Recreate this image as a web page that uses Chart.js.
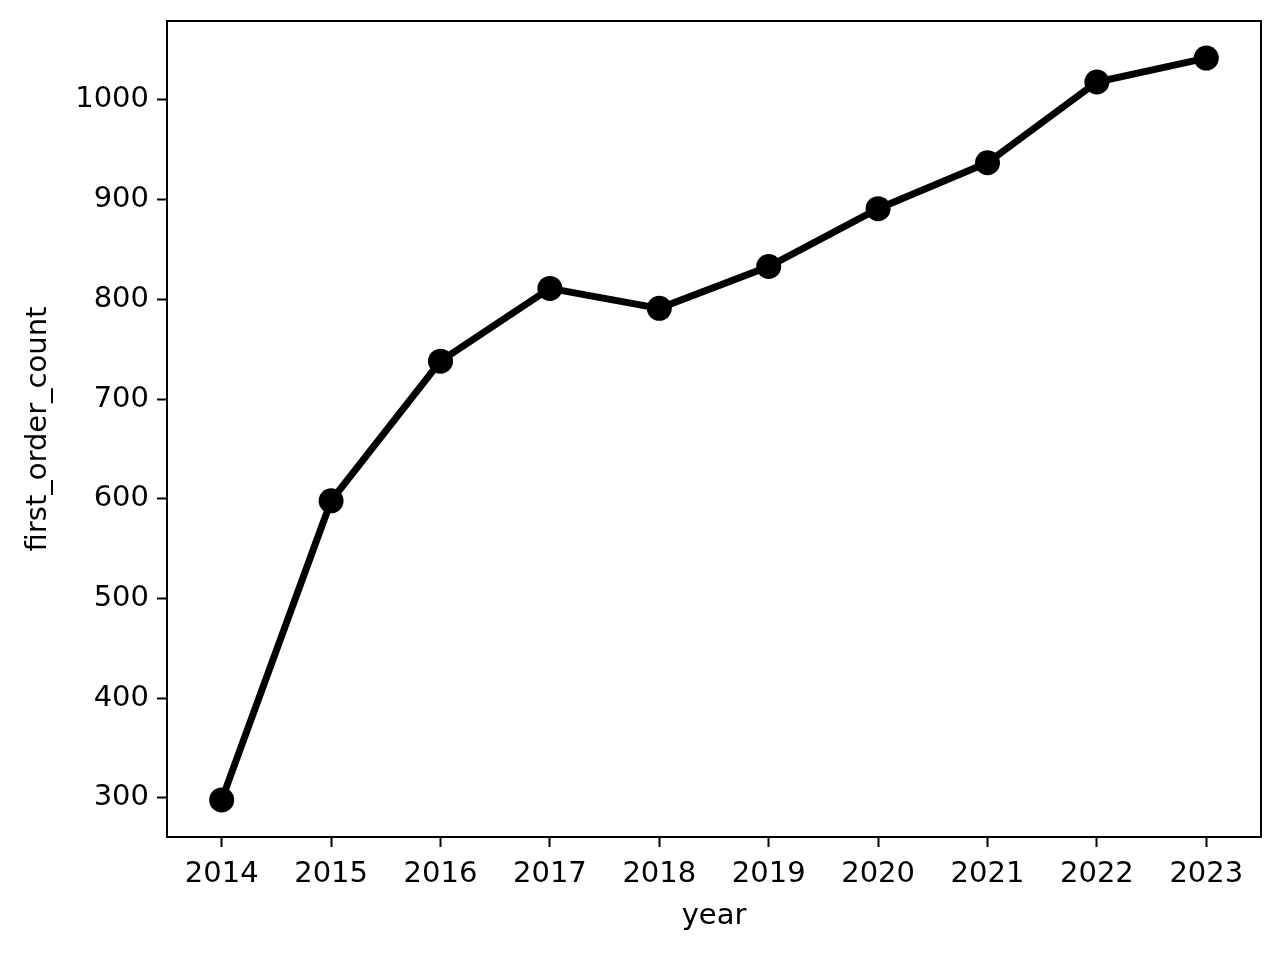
<html>
<head>
<script src="https://cdn.jsdelivr.net/npm/chart.js@4.4.0/dist/chart.umd.min.js"></script>
<style>
  html, body { margin: 0; padding: 0; background: white; }
  #wrap { width: 1280px; height: 953px; }
</style>
</head>
<body>
<div id="wrap"><canvas id="firstOrders"></canvas></div>
<script>
  // data
  var years = ["2014", "2015", "2016", "2017", "2018", "2019", "2020", "2021", "2022", "2023"];
  var firstOrderCount = [298, 598, 738, 811, 791, 833, 891, 937, 1018, 1042];
  var yTicks = [300, 400, 500, 600, 700, 800, 900, 1000];
  var yMin = 260.8, yMax = 1079.2;

  Chart.defaults.font.family = "'DejaVu Sans', sans-serif";
  Chart.defaults.font.size = 29;
  Chart.defaults.color = "#000";

  var padLeft = 17, padBottom = 19;

  // top and right spines, like the matplotlib frame
  var frame = {
    id: "frame",
    afterDraw: function(chart) {
      var a = chart.chartArea, c = chart.ctx;
      c.save();
      c.strokeStyle = "#000";
      c.lineWidth = 2;
      c.strokeRect(a.left, a.top, a.right - a.left, a.bottom - a.top);
      c.restore();
    }
  };

  var ctx = document.getElementById("firstOrders");
  var chart = new Chart(ctx, {
    type: "line",
    data: {
      labels: years,
      datasets: [{
        label: "first_order_count",
        data: firstOrderCount,
        borderColor: "#000",
        backgroundColor: "#000",
        borderWidth: 7,
        pointRadius: 12.5,
        pointHoverRadius: 12.5,
        pointBorderWidth: 0,
        fill: false,
        tension: 0
      }]
    },
    options: {
      responsive: true,
      maintainAspectRatio: false,
      animation: false,
      layout: { padding: { left: padLeft, right: 19, top: 21, bottom: padBottom } },
      plugins: { legend: { display: false }, tooltip: { enabled: false } },
      scales: {
        x: {
          type: "category",
          offset: true,
          grid: { display: true, drawOnChartArea: false, drawTicks: true, offset: false, tickLength: 10, tickWidth: 2, tickColor: "#000" },
          border: { display: true, color: "#000", width: 2 },
          ticks: { padding: 10, maxRotation: 0, autoSkip: false },
          title: { display: true, text: "year", padding: { top: 4, bottom: 0 } },
          afterFit: function(s) {
            s.height = 953 - 837 - padBottom;
            s.paddingLeft = 0; s.paddingRight = 0;
          }
        },
        y: {
          min: yMin,
          max: yMax,
          grid: { display: true, drawOnChartArea: false, drawTicks: true, tickLength: 10, tickWidth: 2, tickColor: "#000" },
          border: { display: true, color: "#000", width: 2 },
          ticks: { padding: 8, callback: function(v) { return String(v); } },
          afterBuildTicks: function(s) { s.ticks = yTicks.map(function(v) { return { value: v }; }); },
          title: { display: true, text: "first_order_count", padding: { top: 4, bottom: 0 } },
          afterFit: function(s) {
            s.width = 167 - padLeft;
            s.paddingTop = 0; s.paddingBottom = 0;
          }
        }
      }
    },
    plugins: [frame]
  });
</script>
</body>
</html>
